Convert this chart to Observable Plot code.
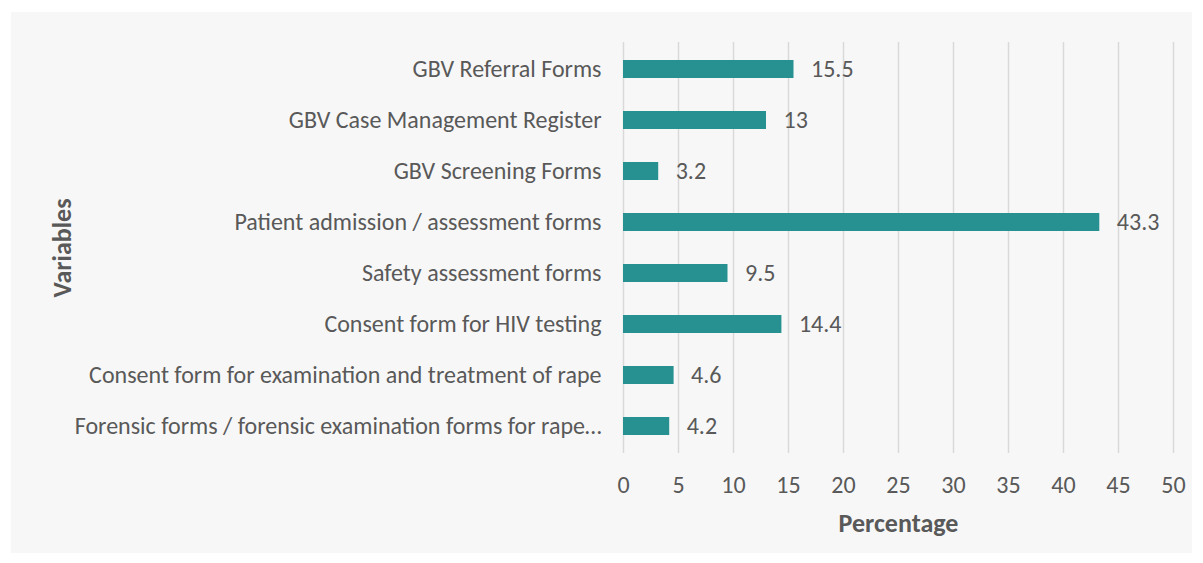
<!DOCTYPE html>
<html>
<head>
<meta charset="utf-8">
<script src="https://cdn.jsdelivr.net/npm/d3@7"></script>
<script src="https://cdn.jsdelivr.net/npm/@observablehq/plot@0.6"></script>
<style>
  html, body { margin: 0; padding: 0; background: #ffffff; }
  #wrap { position: relative; width: 1203px; height: 563px; }
  #panel { position: absolute; left: 11px; top: 12px; width: 1181px; height: 541px; background: #f7f7f7; }
  #chart { position: absolute; left: 0; top: 0; }
</style>
</head>
<body>
<div id="wrap">
  <div id="panel"></div>
  <div id="chart"></div>
</div>
<script>
const categories = [
  "GBV Referral Forms",
  "GBV Case Management Register",
  "GBV Screening Forms",
  "Patient admission / assessment forms",
  "Safety assessment forms",
  "Consent form for HIV testing",
  "Consent form for examination and treatment of rape",
  "Forensic forms / forensic examination forms for rape…"
];
const values = [15.5, 13, 3.2, 43.3, 9.5, 14.4, 4.6, 4.2];
const xTicks = [0, 5, 10, 15, 20, 25, 30, 35, 40, 45, 50];
const xLabel = "Percentage";
const yLabel = "Variables";

const data = categories.map((c, i) => ({label: c, value: values[i]}));

const textColor = "#595959";
const font = "Calibri, Carlito, Lato, 'Open Sans', sans-serif";
const fs = 24;

const chart = Plot.plot({
  width: 1203,
  height: 563,
  marginLeft: 623,
  marginRight: 30,
  marginTop: 42,
  marginBottom: 110,
  style: {background: "transparent", fontFamily: font, fontSize: fs + "px", color: textColor},
  x: {domain: [0, 50], ticks: xTicks, label: null},
  y: {domain: categories, paddingInner: 0.655, paddingOuter: 0.3275, label: null},
  marks: [
    Plot.ruleX(xTicks, {stroke: "#d9d9d9", strokeWidth: 1.5}),
    Plot.barX(data, {x: "value", y: "label", fill: "#279191"}),
    Plot.text(data, {x: "value", y: "label", text: d => String(d.value), dx: 17, textAnchor: "start", fill: textColor, fontSize: fs}),
    Plot.axisX({ticks: xTicks, tickSize: 0, tickPadding: 22, label: null, fontSize: fs, fill: textColor}),
    Plot.axisY({tickSize: 0, tickPadding: 22, label: null, fontSize: fs, fill: textColor}),
    Plot.text([xLabel], {frameAnchor: "bottom", dy: 70, lineAnchor: "middle", textAnchor: "middle", fontWeight: "bold", fontSize: 26, fill: textColor}),
    Plot.text([yLabel], {frameAnchor: "left", dx: -561, rotate: -90, textAnchor: "middle", lineAnchor: "middle", fontWeight: "bold", fontSize: 26, fill: textColor})
  ]
});
document.getElementById("chart").appendChild(chart);
</script>
</body>
</html>
